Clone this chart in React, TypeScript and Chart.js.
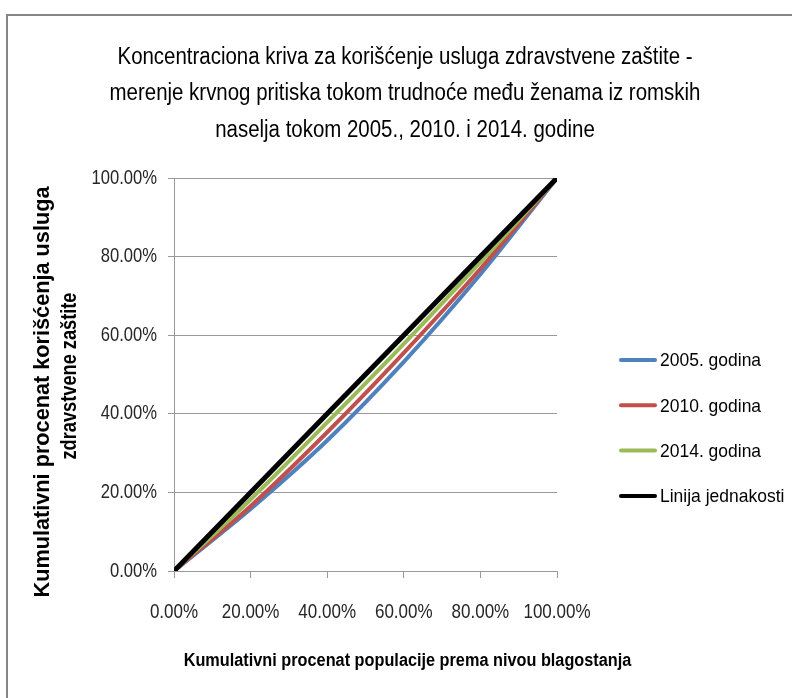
import React, { useEffect, useRef } from "react";
import { Chart, registerables } from "chart.js";

Chart.register(...registerables);

const xValues = [0, 20, 40, 60, 80, 100];
const y2005 = [0, 15.8, 33.2, 53.2, 75.5, 100];
const y2010 = [0, 16.5, 35.3, 55.5, 76.9, 100];
const y2014 = [0, 18.2, 37.8, 57.8, 78.6, 100];
const yEquality = [0, 20, 40, 60, 80, 100];

const seriesLabels = ["2005. godina", "2010. godina", "2014. godina", "Linija jednakosti"];
const seriesColors = ["#4F81BD", "#C0504D", "#9BBB59", "#000000"];

const titleLines = [
  "Koncentraciona kriva za korišćenje usluga zdravstvene zaštite -",
  "merenje krvnog pritiska tokom trudnoće među ženama iz romskih",
  "naselja tokom 2005., 2010. i 2014. godine",
];
const yTitleLines = ["Kumulativni procenat korišćenja usluga", "zdravstvene zaštite"];
const xTitle = "Kumulativni procenat populacije prema nivou blagostanja";

const FONT = '"Liberation Sans", Arial, sans-serif';
const fmtPct = (v: number) => Number(v).toFixed(2) + "%";

const toPoints = (ys: number[]) => ys.map((y, i) => ({ x: xValues[i], y }));

function drawText(
  ctx: CanvasRenderingContext2D,
  text: string,
  x: number,
  y: number,
  font: string,
  sx: number,
  align: CanvasTextAlign,
  baseline: CanvasTextBaseline,
  color: string
) {
  ctx.save();
  ctx.font = font;
  ctx.fillStyle = color;
  ctx.textAlign = align;
  ctx.textBaseline = baseline;
  ctx.translate(x, y);
  ctx.scale(sx, 1);
  ctx.fillText(text, 0, 0);
  ctx.restore();
}

const decorPlugin = {
  id: "decor",
  afterDraw(chart: any) {
    const ctx: CanvasRenderingContext2D = chart.ctx;
    ctx.save();
    // frame
    ctx.strokeStyle = "#868686";
    ctx.lineWidth = 2;
    ctx.strokeRect(7, 15, 1000, 1000);
    ctx.restore();

    // title
    const baselines = [64, 100, 137];
    titleLines.forEach((t, i) =>
      drawText(ctx, t, 405, baselines[i], `23.5px ${FONT}`, 0.87, "center", "alphabetic", "#000")
    );

    // y title (rotated), fit to measured lengths
    const yPos = [
      [43, 392, 411],
      [70, 376, 167],
    ];
    yTitleLines.forEach((t, i) => {
      ctx.save();
      ctx.font = `bold 21.6px ${FONT}`;
      const w = ctx.measureText(t).width;
      const sx = yPos[i][2] / w;
      ctx.translate(yPos[i][0], yPos[i][1]);
      ctx.rotate(-Math.PI / 2);
      ctx.scale(sx, 1);
      ctx.fillStyle = "#000";
      ctx.textAlign = "center";
      ctx.textBaseline = "middle";
      ctx.fillText(t, 0, 0);
      ctx.restore();
    });

    // x title
    drawText(ctx, xTitle, 407.5, 666, `bold 17.5px ${FONT}`, 0.93, "center", "alphabetic", "#000");

    // tick labels
    const xs = chart.scales.x;
    const ys = chart.scales.y;
    xs.ticks.forEach((t: any) => {
      drawText(ctx, fmtPct(t.value), xs.getPixelForValue(t.value), 612, `21px ${FONT}`, 0.81, "center", "middle", "#262626");
    });
    ys.ticks.forEach((t: any) => {
      drawText(ctx, fmtPct(t.value), 157, ys.getPixelForValue(t.value), `20.5px ${FONT}`, 0.81, "right", "middle", "#262626");
    });

    // legend
    chart.data.datasets.forEach((ds: any, i: number) => {
      const y = 360 + i * 45.3;
      ctx.save();
      ctx.strokeStyle = ds.borderColor;
      ctx.lineWidth = 4;
      ctx.lineCap = "round";
      ctx.beginPath();
      ctx.moveTo(621, y);
      ctx.lineTo(655, y);
      ctx.stroke();
      ctx.restore();
      drawText(ctx, ds.label, 660, y + 1, `19px ${FONT}`, 0.92, "left", "middle", "#000");
    });
  },
};

export default function App() {
  const ref = useRef<HTMLCanvasElement | null>(null);
  useEffect(() => {
    if (!ref.current) return;
    const data = [y2005, y2010, y2014, yEquality];
    const chart = new Chart(ref.current, {
      type: "line",
      data: {
        datasets: data.map((ys, i) => ({
          label: seriesLabels[i],
          data: toPoints(ys),
          borderColor: seriesColors[i],
          backgroundColor: seriesColors[i],
          borderWidth: i === 3 ? 5 : 4,
          pointRadius: 0,
          tension: i === 3 ? 0 : 0.3,
          order: 3 - i,
          fill: false,
        })),
      },
      options: {
        responsive: false,
        animation: false,
        devicePixelRatio: 1,
        layout: { padding: { top: 178, right: 235, left: 0, bottom: 0 } },
        plugins: {
          legend: { display: false },
          title: { display: false },
          tooltip: { enabled: false },
        },
        scales: {
          x: {
            type: "linear",
            min: 0,
            max: 100,
            afterFit: (s: any) => {
              s.height = 127;
            },
            ticks: { stepSize: 20, display: false },
            grid: { drawOnChartArea: false, drawTicks: true, tickLength: 7, color: "#999" },
            border: { display: true, color: "#999", width: 1 },
          },
          y: {
            type: "linear",
            min: 0,
            max: 100,
            afterFit: (s: any) => {
              s.width = 174;
            },
            ticks: { stepSize: 20, display: false },
            grid: { drawTicks: true, tickLength: 6, color: "#999" },
            border: { display: true, color: "#999", width: 1 },
          },
        },
      },
      plugins: [decorPlugin],
    });
    return () => chart.destroy();
  }, []);
  return (
    <div style={{ position: "fixed", left: 0, top: 0, width: 792, height: 698, background: "#fff" }}>
      <canvas ref={ref} width={792} height={698} style={{ width: 792, height: 698 }} />
    </div>
  );
}
